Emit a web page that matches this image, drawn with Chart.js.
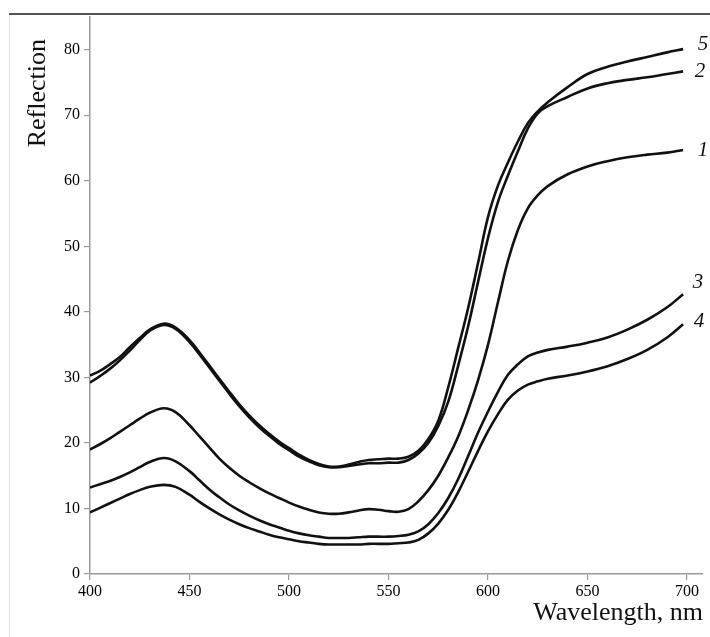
<!DOCTYPE html>
<html><head><meta charset="utf-8">
<script src="https://cdn.jsdelivr.net/npm/chart.js@4"></script>
<style>html,body{margin:0;padding:0;background:#fff}</style>
</head><body>
<canvas id="c" width="710" height="637"></canvas>
<script>
const wavelengths = [400,405,410,415,420,425,430,437,443,450,455,460,465,470,475,480,485,490,495,500,505,510,515,520,525,530,535,540,545,550,555,560,565,570,575,580,585,590,595,600,605,610,615,620,625,630,640,650,660,670,680,690,698];
const curve1 = [19.0,19.8,20.7,21.7,22.7,23.7,24.6,25.3,24.7,22.7,21.0,19.3,17.6,16.2,15.0,14.0,13.1,12.3,11.6,10.9,10.3,9.8,9.4,9.2,9.2,9.4,9.7,9.9,9.8,9.6,9.5,9.9,11.1,12.8,15.0,17.8,21.0,25.0,29.6,35.0,41.5,47.8,52.5,55.8,57.8,59.2,61.0,62.2,63.0,63.6,64.0,64.3,64.7];
const curve2 = [29.2,30.2,31.3,32.6,34.1,35.7,37.1,38.0,37.4,35.4,33.5,31.5,29.5,27.5,25.6,23.9,22.4,21.1,19.9,18.9,17.9,17.2,16.6,16.3,16.3,16.5,16.7,16.9,16.9,17.0,17.0,17.4,18.4,20.0,22.6,26.3,31.8,37.8,44.6,51.3,56.8,60.8,64.5,68.0,70.3,71.4,72.8,74.1,74.9,75.4,75.8,76.3,76.7];
const curve3 = [13.2,13.7,14.2,14.8,15.5,16.3,17.1,17.7,17.2,15.7,14.3,12.9,11.7,10.6,9.7,8.9,8.2,7.6,7.1,6.6,6.2,5.9,5.7,5.5,5.5,5.5,5.6,5.7,5.7,5.7,5.8,6.0,6.5,7.6,9.3,11.6,14.5,18.0,21.6,24.8,27.8,30.4,32.0,33.2,33.8,34.2,34.7,35.3,36.1,37.3,38.8,40.7,42.7];
const curve4 = [9.4,10.1,10.8,11.5,12.2,12.8,13.3,13.6,13.3,12.1,11.0,10.0,9.1,8.3,7.6,7.0,6.5,6.0,5.6,5.3,5.0,4.8,4.6,4.5,4.5,4.5,4.5,4.6,4.6,4.6,4.7,4.8,5.2,6.2,7.7,9.8,12.5,15.6,18.8,21.8,24.4,26.6,28.0,28.9,29.4,29.8,30.3,30.9,31.7,32.8,34.2,36.1,38.1];
const curve5 = [30.3,31.0,32.0,33.1,34.6,36.0,37.3,38.2,37.6,35.7,33.8,31.8,29.8,27.8,25.9,24.2,22.7,21.4,20.2,19.2,18.2,17.4,16.8,16.4,16.4,16.7,17.1,17.4,17.5,17.6,17.6,17.9,18.8,20.6,23.4,28.5,34.5,40.6,47.5,54.5,59.3,62.8,66.0,68.8,70.6,72.0,74.3,76.3,77.4,78.2,78.9,79.6,80.1];
const seriesNames = ['1','2','3','4','5'];
const seriesValues = [curve1, curve2, curve3, curve4, curve5];
const xTicks = [400,450,500,550,600,650,700];
const yTicks = [0,10,20,30,40,50,60,70,80];
const xTitle = 'Wavelength, nm';
const yTitle = 'Reflection';

// label offsets (style, pixels) for the curve numbers at the right end
const labelOffsets = {'1':[20,0],'2':[17,0],'3':[15,-12],'4':[16,-3],'5':[20,-5]};

const serif = "'Liberation Serif','Times New Roman',serif";

const decorPlugin = {
  id: 'decor',
  afterDraw(chart) {
    const ctx = chart.ctx;
    const ca = chart.chartArea;
    ctx.save();
    ctx.strokeStyle = '#e2e2e2'; ctx.lineWidth = 1;
    ctx.beginPath(); ctx.moveTo(9.5, 14); ctx.lineTo(9.5, 637); ctx.stroke();
    ctx.strokeStyle = '#555'; ctx.lineWidth = 2;
    ctx.beginPath(); ctx.moveTo(9, 14); ctx.lineTo(710, 14); ctx.stroke();
    ctx.fillStyle = '#111';
    ctx.font = "26px " + serif;
    ctx.translate(38, ca.top + 22);
    ctx.rotate(-Math.PI/2);
    ctx.textAlign = 'right'; ctx.textBaseline = 'middle';
    ctx.fillText(yTitle, 0, 0);
    ctx.restore();
    ctx.save();
    ctx.font = "italic 21px " + serif;
    ctx.fillStyle = '#111';
    ctx.textAlign = 'center'; ctx.textBaseline = 'middle';
    chart.data.datasets.forEach((ds, i) => {
      const meta = chart.getDatasetMeta(i);
      const last = meta.data[meta.data.length - 1];
      const off = labelOffsets[ds.label];
      ctx.fillText(ds.label, last.x + off[0], last.y + off[1]);
    });
    ctx.restore();
  }
};

new Chart(document.getElementById('c'), {
  type: 'line',
  data: {
    datasets: seriesNames.map((n, i) => ({
      label: n,
      data: wavelengths.map((w, j) => ({x: w, y: seriesValues[i][j]})),
      borderColor: '#111',
      borderWidth: 2.6,
      pointRadius: 0,
      fill: false,
      tension: 0.4
    }))
  },
  options: {
    responsive: false,
    animation: false,
    devicePixelRatio: 1,
    layout: { padding: { left: 10, right: 7, top: 17, bottom: 0 } },
    plugins: { legend: { display: false }, tooltip: { enabled: false } },
    scales: {
      x: {
        type: 'linear', min: 400, max: 708,
        afterBuildTicks: s => { s.ticks = xTicks.map(v => ({value: v})); },
        afterFit: s => { s.height = 63; },
        ticks: { font: { family: serif, size: 16 }, color: '#000', padding: 2, maxRotation: 0, autoSkip: false },
        grid: { display: true, drawOnChartArea: false, drawTicks: true, tickLength: 6, color: '#9a9a9a', lineWidth: 1.2 },
        border: { display: true, color: '#9a9a9a', width: 1.5 },
        title: { display: true, text: xTitle, align: 'end', color: '#111', font: { family: serif, size: 26 }, padding: { top: 0, bottom: 8 } }
      },
      y: {
        type: 'linear', min: 0, max: 85,
        afterBuildTicks: s => { s.ticks = yTicks.map(v => ({value: v})); },
        afterFit: s => { s.width = 80; },
        ticks: { font: { family: serif, size: 16 }, color: '#000', padding: 4 },
        grid: { display: true, drawOnChartArea: false, drawTicks: true, tickLength: 6, color: '#9a9a9a', lineWidth: 1.2 },
        border: { display: true, color: '#9a9a9a', width: 1.5 }
      }
    }
  },
  plugins: [decorPlugin]
});
</script>
</body></html>
